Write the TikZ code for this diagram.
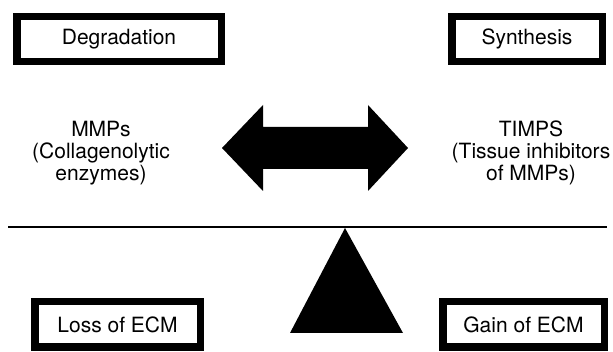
\documentclass[tikz,border=0pt]{standalone}
\usepackage{fontspec}
\setmainfont{TeX Gyre Heros}
\usetikzlibrary{positioning}

\begin{document}
\begin{tikzpicture}[
  x=1pt, y=-1pt,
  tag/.style={draw, line width=7.5pt, inner sep=0pt, minimum height=45pt,
    font=\fontsize{21}{22}\selectfont},
  agent/.style={align=center, inner sep=0pt, font=\fontsize{21}{22}\selectfont}
  ]
  \useasboundingbox (0,0) rectangle (613,352);
  % labelled boxes
  \node[tag, minimum width=204.5pt] (degr) at (119,39) {Degradation};
  \node[tag, minimum width=150.5pt] (synth) at (527,39) {Synthesis};
  \node[tag, minimum width=165.5pt, minimum height=45.5pt] (loss) at (117.5,324.5) {Loss of ECM};
  \node[tag, minimum width=161.5pt, minimum height=45.5pt] (gain) at (523.5,324.5) {Gain of ECM};
  % enzymes and inhibitors
  \node[agent] (mmp) at (101,153) {MMPs\\(Collagenolytic\\enzymes)};
  \node[agent] (timp) at (531,153) {TIMPS\\(Tissue inhibitors\\of MMPs)};
  % double block arrow
  \coordinate (tipL) at (222,148);
  \coordinate (tipR) at (408,148);
  \fill (tipL) -- (263,105) -- (263,127) -- (368,127) -- (368,105) -- (tipR)
    -- (368,191) -- (368,169) -- (263,169) -- (263,191) -- cycle;
  % balance beam and fulcrum
  \coordinate (beamL) at (8,227);
  \coordinate (beamR) at (607,227);
  \draw[line width=2.7pt] (beamL) -- (beamR);
  \coordinate (apex) at (345,228);
  \fill (apex) -- (403,333) -- (290,333) -- cycle;
\end{tikzpicture}
\end{document}
